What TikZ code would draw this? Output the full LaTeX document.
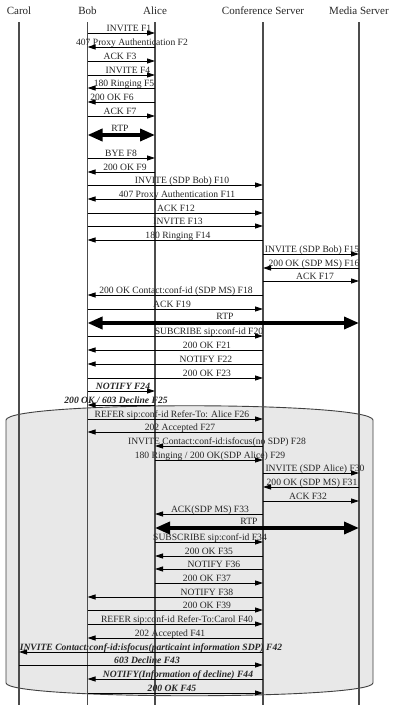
\documentclass[tikz,border=0pt]{standalone}
\usepackage{fontspec}
\setmainfont{Liberation Serif}
\usetikzlibrary{arrows.meta}
\tikzset{
  sq actor/.style={
    font=\fontsize{11}{13}\selectfont, text=black!85, inner sep=0pt
  },
  sq life/.style={
    draw=black!70, line width=1.1pt
  },
  sq msg/.style={
    -{Triangle[length=8pt,width=5pt]}, draw=black, line width=0.8pt
  },
  sq rtp/.style={
    {Triangle[length=15pt,width=12pt]}-{Triangle[length=15pt,width=12pt]},
    draw=black, line width=3.5pt
  },
  sq label/.style={
    font=\fontsize{9.6}{11}\selectfont, text=black!85,
    anchor=base, yshift=1.5pt, inner sep=0pt
  },
  sq bold label/.style={
    sq label, font=\fontsize{9.6}{11}\selectfont\bfseries\itshape
  },
  sq rtp label/.style={
    sq label, yshift=2pt
  },
  sq frame/.style={
    draw=black!75, fill=black!9, line width=0.9pt
  }
}

\begin{document}
\begin{tikzpicture}[x=1pt, y=-1pt]
  \useasboundingbox (0,0) rectangle (392,705);

  % shaded part of the flow
  \draw [sq frame] (6,420) .. controls (8,401) and (371,401) .. (373,420)
    -- (373,683) .. controls (371,700) and (8,700) .. (6,683) -- cycle;

  \node [sq actor] (carol) at (19,11) {Carol};
  \node [sq actor] (bob) at (87.5,11) {Bob};
  \node [sq actor] (alice) at (155,11) {Alice};
  \node [sq actor] (conf) at (263,11) {Conference Server};
  \node [sq actor] (media) at (359,11) {Media Server};

  \foreach \n in {carol,bob,alice,conf,media}
    \draw [sq life] (\n |- 0,22) -- (\n |- 0,705);

  \draw [sq msg] (bob |- 0,33) -- (alice |- 0,33);
  \node [sq label] (f1) at (129,33) {INVITE F1};
  \draw [sq msg] (alice |- 0,47) -- (bob |- 0,47);
  \node [sq label] (f2) at (132,47) {407 Proxy Authentication F2};
  \draw [sq msg] (bob |- 0,61) -- (alice |- 0,61);
  \node [sq label] (f3) at (120,61) {ACK F3};
  \draw [sq msg] (bob |- 0,75) -- (alice |- 0,75);
  \node [sq label] (f4) at (128,75) {INVITE F4};
  \draw [sq msg] (alice |- 0,88) -- (bob |- 0,88);
  \node [sq label] (f5) at (124,88) {180 Ringing F5};
  \draw [sq msg] (alice |- 0,102) -- (bob |- 0,102);
  \node [sq label] (f6) at (112,102) {200 OK F6};
  \draw [sq msg] (bob |- 0,116) -- (alice |- 0,116);
  \node [sq label] (f7) at (120,116) {ACK F7};
  \draw [sq rtp] (bob |- 0,135) -- (alice |- 0,135);
  \node [sq rtp label] (rtp1) at (120,135) {RTP};
  \draw [sq msg] (bob |- 0,158) -- (alice |- 0,158);
  \node [sq label] (f8) at (121,158) {BYE F8};
  \draw [sq msg] (alice |- 0,172) -- (bob |- 0,172);
  \node [sq label] (f9) at (125,172) {200 OK F9};
  \draw [sq msg] (bob |- 0,185) -- (conf |- 0,185);
  \node [sq label] (f10) at (182,185) {INVITE (SDP Bob) F10};
  \draw [sq msg] (conf |- 0,199) -- (bob |- 0,199);
  \node [sq label] (f11) at (177,199) {407 Proxy Authentication F11};
  \draw [sq msg] (bob |- 0,213) -- (conf |- 0,213);
  \node [sq label] (f12) at (176,213) {ACK F12};
  \draw [sq msg] (bob |- 0,226) -- (conf |- 0,226);
  \node [sq label] (f13) at (178,226) {INVITE F13};
  \draw [sq msg] (conf |- 0,240) -- (bob |- 0,240);
  \node [sq label] (f14) at (178,240) {180 Ringing F14};
  \draw [sq msg] (conf |- 0,254) -- (media |- 0,254);
  \node [sq label] (f15) at (312,254) {INVITE (SDP Bob) F15};
  \draw [sq msg] (media |- 0,268) -- (conf |- 0,268);
  \node [sq label] (f16) at (314,268) {200 OK (SDP MS) F16};
  \draw [sq msg] (conf |- 0,281) -- (media |- 0,281);
  \node [sq label] (f17) at (315,281) {ACK F17};
  \draw [sq msg] (conf |- 0,295) -- (bob |- 0,295);
  \node [sq label] (f18) at (176,295) {200 OK Contact:conf-id (SDP MS) F18};
  \draw [sq msg] (bob |- 0,309) -- (conf |- 0,309);
  \node [sq label] (f19) at (172,309) {ACK F19};
  \draw [sq rtp] (bob |- 0,323) -- (media |- 0,323);
  \node [sq rtp label] (rtp2) at (225,323) {RTP};
  \draw [sq msg] (bob |- 0,336) -- (conf |- 0,336);
  \node [sq label] (f20) at (209,336) {SUBCRIBE sip:conf-id F20};
  \draw [sq msg] (conf |- 0,350) -- (bob |- 0,350);
  \node [sq label] (f21) at (207,350) {200 OK F21};
  \draw [sq msg] (conf |- 0,364) -- (bob |- 0,364);
  \node [sq label] (f22) at (206,364) {NOTIFY F22};
  \draw [sq msg] (bob |- 0,378) -- (conf |- 0,378);
  \node [sq label] (f23) at (207,378) {200 OK F23};
  \draw [sq msg] (bob |- 0,391) -- (alice |- 0,391);
  \node [sq bold label] (f24) at (123,391) {NOTIFY F24};
  \draw [sq msg] (alice |- 0,405) -- (bob |- 0,405);
  \node [sq bold label] (f25) at (116,405) {200 OK / 603 Decline F25};
  \draw [sq msg] (bob |- 0,419) -- (conf |- 0,419);
  \node [sq label] (f26) at (172,419) {REFER sip:conf-id Refer-To: Alice F26};
  \draw [sq msg] (conf |- 0,432) -- (bob |- 0,432);
  \node [sq label] (f27) at (180,432) {202 Accepted F27};
  \draw [sq msg] (conf |- 0,446) -- (alice |- 0,446);
  \node [sq label] (f28) at (217,446) {INVITE Contact:conf-id:isfocus(no SDP) F28};
  \draw [sq msg] (alice |- 0,460) -- (conf |- 0,460);
  \node [sq label] (f29) at (210,460) {180 Ringing / 200 OK(SDP Alice) F29};
  \draw [sq msg] (conf |- 0,473) -- (media |- 0,473);
  \node [sq label] (f30) at (315,473) {INVITE (SDP Alice) F30};
  \draw [sq msg] (media |- 0,487) -- (conf |- 0,487);
  \node [sq label] (f31) at (312,487) {200 OK (SDP MS) F31};
  \draw [sq msg] (conf |- 0,501) -- (media |- 0,501);
  \node [sq label] (f32) at (308,501) {ACK F32};
  \draw [sq msg] (conf |- 0,514) -- (alice |- 0,514);
  \node [sq label] (f33) at (210,514) {ACK(SDP MS) F33};
  \draw [sq rtp] (alice |- 0,528) -- (media |- 0,528);
  \node [sq rtp label] (rtp3) at (249,528) {RTP};
  \draw [sq msg] (alice |- 0,542) -- (conf |- 0,542);
  \node [sq label] (f34) at (210,542) {SUBSCRIBE sip:conf-id F34};
  \draw [sq msg] (conf |- 0,556) -- (alice |- 0,556);
  \node [sq label] (f35) at (209,556) {200 OK F35};
  \draw [sq msg] (conf |- 0,569) -- (alice |- 0,569);
  \node [sq label] (f36) at (214,569) {NOTIFY F36};
  \draw [sq msg] (alice |- 0,583) -- (conf |- 0,583);
  \node [sq label] (f37) at (207,583) {200 OK F37};
  \draw [sq msg] (conf |- 0,597) -- (bob |- 0,597);
  \node [sq label] (f38) at (207,597) {NOTIFY F38};
  \draw [sq msg] (bob |- 0,610) -- (conf |- 0,610);
  \node [sq label] (f39) at (207,610) {200 OK F39};
  \draw [sq msg] (bob |- 0,624) -- (conf |- 0,624);
  \node [sq label] (f40) at (177,624) {REFER sip:conf-id Refer-To:Carol F40};
  \draw [sq msg] (conf |- 0,638) -- (bob |- 0,638);
  \node [sq label] (f41) at (170,638) {202 Accepted F41};
  \draw [sq msg] (conf |- 0,652) -- (carol |- 0,652);
  \node [sq bold label] (f42) at (151,652) {INVITE Contact:conf-id:isfocus(particaint information SDP) F42};
  \draw [sq msg] (carol |- 0,665) -- (conf |- 0,665);
  \node [sq bold label] (f43) at (147,665) {603 Decline F43};
  \draw [sq msg] (conf |- 0,679) -- (bob |- 0,679);
  \node [sq bold label] (f44) at (178,679) {NOTIFY(Information of decline) F44};
  \draw [sq msg] (bob |- 0,693) -- (conf |- 0,693);
  \node [sq bold label] (f45) at (172,693) {200 OK F45};
\end{tikzpicture}
\end{document}
